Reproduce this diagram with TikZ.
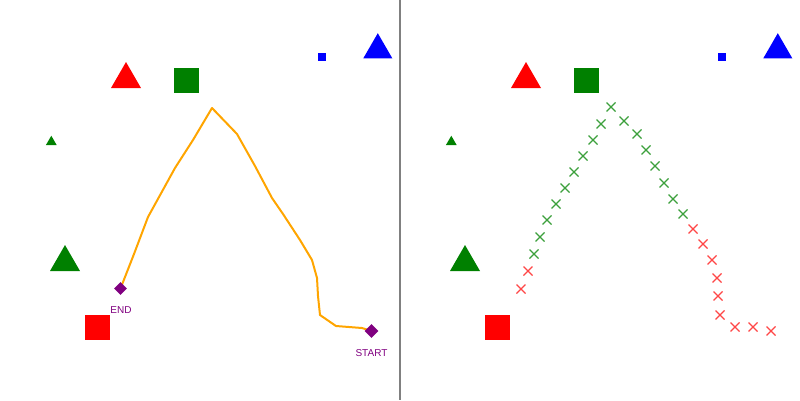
\documentclass[tikz,border=0pt]{standalone}
\usepackage{fontspec}
\setmainfont{Liberation Sans}
\usetikzlibrary{shapes.geometric,backgrounds}
\definecolor{trailorange}{RGB}{255,165,0}
\definecolor{markpurple}{RGB}{128,0,128}
\definecolor{shapegreen}{RGB}{0,128,0}
\definecolor{hitgreen}{RGB}{60,160,60}
\definecolor{missred}{RGB}{255,70,70}
\definecolor{dividergray}{RGB}{128,128,128}
\newcommand{\trishape}[4]{% centre x, base y, width, colour
  \fill[#4] ({#1-#3/2},#2) -- ({#1},{#2-0.866*#3}) -- ({#1+#3/2},#2) -- cycle;}
\newcommand{\sqshape}[4]{% centre x, centre y, side, colour
  \fill[#4] ({#1-#3/2},{#2-#3/2}) rectangle ({#1+#3/2},{#2+#3/2});}

\begin{document}
\begin{tikzpicture}[x=1pt,y=-1pt,
  hitmark/.style={hitgreen,line width=1.1pt},
  missmark/.style={missred,line width=1.1pt},
  endpoint/.style={diamond,fill=markpurple,inner sep=0pt,minimum size=14pt},
  endlabel/.style={text=markpurple,font=\fontsize{10}{12}\selectfont,inner sep=0pt}]
  \useasboundingbox (0,0) rectangle (800,400);
  % the same scene in both panels
  \foreach \dx in {0,400}{
    \begin{scope}[xshift=\dx pt]
      \trishape{126}{88}{30}{red}
      \sqshape{186}{80.5}{25}{shapegreen}
      \sqshape{321.7}{56.7}{8}{blue}
      \trishape{377.8}{58.3}{29}{blue}
      \trishape{51.3}{145}{10.7}{shapegreen}
      \trishape{65}{271}{30}{shapegreen}
      \sqshape{97}{327.5}{25}{red}
    \end{scope}
  }
  \draw[dividergray,line width=1.5pt] (400,0) -- (400,400);
  % left panel: trail
  \node[endpoint] (start) at (371.5,331) {};
  \node[endpoint,minimum size=13pt] (end) at (120.5,288.5) {};
  \node[endlabel] (startlabel) at (371.5,353.5) {START};
  \node[endlabel] (endlabel) at (121,310.5) {END};
  \begin{scope}[on background layer]
    \draw[trailorange,line width=2pt,line join=round] (start.center) -- (362,328) -- (336,326)
      -- (320,315) -- (318,296) -- (317,278) -- (312,260) -- (300,240) -- (283,214)
      -- (272,198) -- (255,166) -- (237,134) -- (212,108) -- (193,140) -- (175,168)
      -- (148,217) -- (134,254) -- (end.center);
  \end{scope}
  % right panel: samples
  \foreach \px/\py/\mk in {771/331/missmark,753/327/missmark,735/327/missmark,
      720/315/missmark,718/296/missmark,717/278/missmark,712/260/missmark,
      703/244/missmark,693/229/missmark,683/214/hitmark,673/199/hitmark,
      664/183/hitmark,655/166/hitmark,646/150/hitmark,637/134/hitmark,
      624/121/hitmark,611/107/hitmark,601/124/hitmark,593/140/hitmark,
      583/156/hitmark,574/172/hitmark,565/188/hitmark,556/204/hitmark,
      547/220/hitmark,540/237/hitmark,534/254/hitmark,528/271/missmark,
      521/289/missmark}
    \draw[\mk] (\px-4.5,\py-4.5) -- (\px+4.5,\py+4.5) (\px-4.5,\py+4.5) -- (\px+4.5,\py-4.5);
\end{tikzpicture}
\end{document}
